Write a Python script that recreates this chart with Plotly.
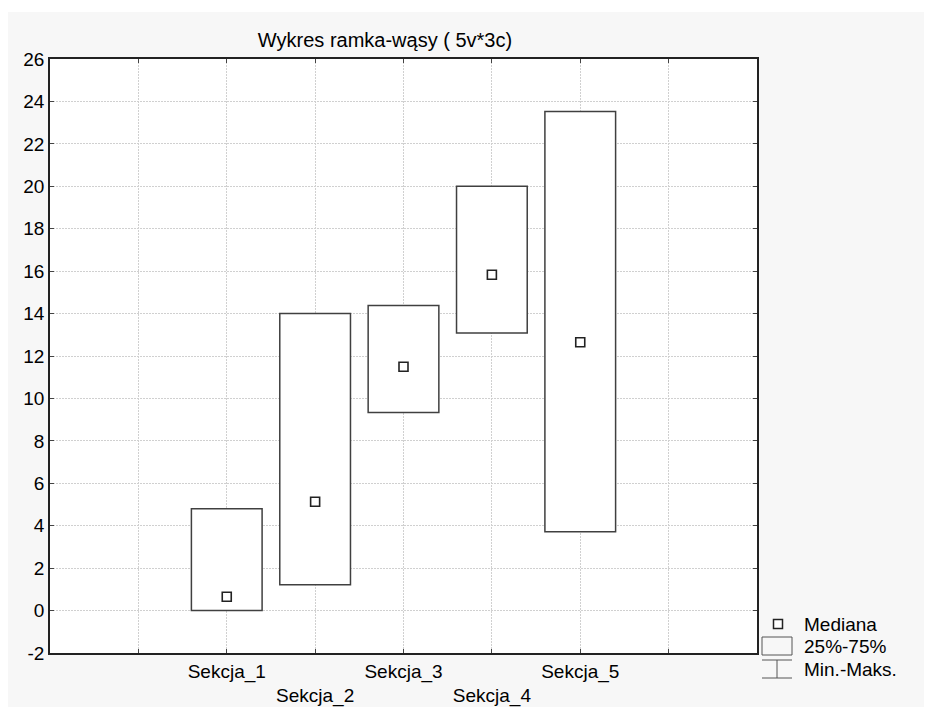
import plotly.graph_objects as go

# ---- data ----
categories = ["Sekcja_1", "Sekcja_2", "Sekcja_3", "Sekcja_4", "Sekcja_5"]
cat_pos = [2, 3, 4, 5, 6]
q25 = [0.0, 1.22, 9.34, 13.08, 3.72]
q75 = [4.8, 14.0, 14.38, 20.0, 23.52]
median = [0.65, 5.13, 11.49, 15.83, 12.65]
tick_vals = [1, 2, 3, 4, 5, 6, 7]
tick_text = ["", "Sekcja_1", "<br>Sekcja_2", "Sekcja_3", "<br>Sekcja_4", "Sekcja_5", ""]
y_ticks = list(range(-2, 27, 2))
y_tick_text = [str(v) for v in y_ticks]
legend_labels = ["Mediana", "25%-75%", "Min.-Maks."]

OFF = 8  # page body margin
W, H = 932 - 2 * OFF, 707 - OFF
L, R, T, B = 50 - OFF, 757 - OFF, 59 - OFF, 653 - OFF
FONT = "Liberation Sans, Arial, sans-serif"
EDGE = "#404040"
FS = 19

def px(sx):
    return (sx - OFF - L) / (R - L)

def py(sy):
    return (B - (sy - OFF)) / (B - T)

fig = go.Figure()
fig.add_trace(go.Bar(
    x=cat_pos, base=q25, y=[b - a for a, b in zip(q25, q75)],
    width=0.8, marker=dict(color="white", line=dict(color=EDGE, width=1.5)),
    showlegend=False, hoverinfo="skip"))
fig.add_trace(go.Scatter(
    x=cat_pos, y=median, mode="markers",
    marker=dict(symbol="square", size=9, color="white", line=dict(color="#222222", width=1.6)),
    showlegend=False))

shapes = []
# thin white strip at the very top
shapes.append(dict(type="rect", xref="paper", yref="paper", x0=px(0), x1=px(940), y0=py(12), y1=py(OFF),
                   fillcolor="white", line=dict(width=0), layer="below"))
# legend symbols
shapes.append(dict(type="rect", xref="paper", yref="paper", x0=px(773.5), x1=px(782.5), y0=py(628.5), y1=py(619.5),
                   fillcolor="white", line=dict(color="#222222", width=1.5)))
shapes.append(dict(type="rect", xref="paper", yref="paper", x0=px(762), x1=px(792), y0=py(655), y1=py(637),
                   fillcolor="rgba(0,0,0,0)", line=dict(color="#555555", width=1)))
for (x0, y0, x1, y1) in [(762, 660, 792, 660), (777, 660, 777, 678), (762, 678, 792, 678)]:
    shapes.append(dict(type="line", xref="paper", yref="paper", x0=px(x0), x1=px(x1), y0=py(y0), y1=py(y1),
                       line=dict(color="#555555", width=1)))

annotations = []
for lab, yy in zip(legend_labels, [624, 646, 669]):
    annotations.append(dict(text=lab, xref="paper", yref="paper", x=px(802), y=py(yy),
                            xanchor="left", yanchor="middle", showarrow=False,
                            font=dict(family=FONT, size=FS, color="black")))

fig.update_layout(
    width=W, height=H,
    margin=dict(l=L, r=W - R, t=T, b=H - B, pad=0, autoexpand=False),
    paper_bgcolor="#f7f7f7", plot_bgcolor="white",
    title=dict(text="Wykres ramka-wąsy ( 5v*3c)", x=(385 - OFF) / W, xref="container", xanchor="center",
               y=1 - (40 - OFF) / H, yref="container", yanchor="middle",
               font=dict(family=FONT, size=20, color="black")),
    font=dict(family=FONT, size=FS, color="black"),
    shapes=shapes, annotations=annotations,
    showlegend=False,
)
grid = dict(showgrid=True, gridcolor="#d0d0d0", griddash="2px,1px", gridwidth=1,
            showline=True, linecolor="#222222", linewidth=1.5, mirror="ticks",
            ticks="inside", ticklen=4, tickcolor="#444444", zeroline=False, automargin=False,
            tickfont=dict(family=FONT, size=FS, color="black"))
fig.update_xaxes(range=[0, 8], tickmode="array", tickvals=tick_vals, ticktext=tick_text, **grid)
fig.update_yaxes(range=[-2, 26], tickmode="array", tickvals=y_ticks, ticktext=y_tick_text, **grid)

fig.write_html("out.html")
